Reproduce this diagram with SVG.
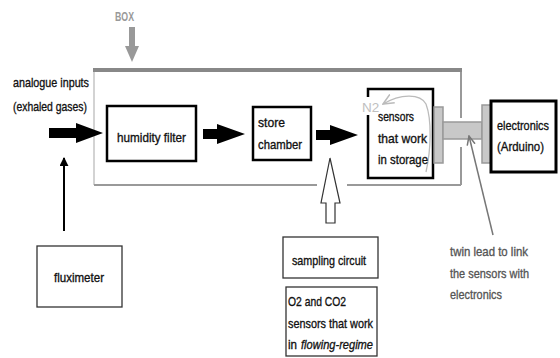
<svg xmlns="http://www.w3.org/2000/svg" width="560" height="358" viewBox="0 0 560 358">
<defs>
<style>
text{font-family:"Liberation Sans",Arial,sans-serif;font-size:13.5px;fill:#111;stroke:#111;stroke-width:0.35}
.box{fill:#fff;stroke:#000;stroke-width:2.5}
.thin{fill:#fff;stroke:#333;stroke-width:1.3}
.conn{fill:#c8c8c8;stroke:#999;stroke-width:1.5}
.big{fill:#000}
.gray{fill:#555;stroke:#555}
</style>
<marker id="ah" viewBox="0 0 10 10" refX="9" refY="5" markerWidth="9" markerHeight="9" markerUnits="userSpaceOnUse" orient="auto">
<path d="M0,0 L10,5 L0,10 Z" fill="#000"/>
</marker>
<marker id="ao" viewBox="0 0 10 10" refX="9" refY="5" markerWidth="10" markerHeight="10" markerUnits="userSpaceOnUse" orient="auto">
<path d="M0,1 L9,5 L0,9" fill="none" stroke="#777" stroke-width="1.5"/>
</marker>
<marker id="ag" viewBox="0 0 10 10" refX="9" refY="5" markerWidth="12" markerHeight="12" markerUnits="userSpaceOnUse" orient="auto">
<path d="M0,1 L9,5 L0,9" fill="none" stroke="#bbb" stroke-width="1.3"/>
</marker>
</defs>

<g id="enclosure">
<line x1="94" y1="70" x2="94" y2="185" stroke="#c4c4c4" stroke-width="1.5"/>
<line x1="94" y1="185" x2="317" y2="185" stroke="#999" stroke-width="2"/>
<line x1="347" y1="185" x2="461" y2="185" stroke="#999" stroke-width="2"/>
<line x1="461" y1="70" x2="461" y2="118" stroke="#999" stroke-width="2"/>
<line x1="461" y1="147" x2="461" y2="185" stroke="#999" stroke-width="2"/>
<line x1="93" y1="70" x2="462" y2="70" stroke="#888" stroke-width="4"/>
</g>

<g id="box-label">
<text x="115" y="21" font-size="12" font-weight="bold" style="fill:#999;stroke:none" textLength="19" lengthAdjust="spacingAndGlyphs">BOX</text>
<path d="M129,27 H135 V46 H139 L132,62 L125,46 H129 Z" fill="#999"/>
</g>

<g id="input-label">
<text x="13" y="87" textLength="76" lengthAdjust="spacingAndGlyphs">analogue inputs</text>
<text x="13" y="111" textLength="74" lengthAdjust="spacingAndGlyphs">(exhaled gases)</text>
</g>

<g id="humidity-filter">
<rect class="box" x="107" y="106" width="89" height="55"/>
<text x="151.5" y="142" text-anchor="middle" textLength="69" lengthAdjust="spacingAndGlyphs">humidity filter</text>
</g>

<g id="store-chamber">
<rect class="box" x="253" y="107" width="58" height="53"/>
<text x="258" y="127" textLength="27" lengthAdjust="spacingAndGlyphs">store</text>
<text x="258" y="149" textLength="44" lengthAdjust="spacingAndGlyphs">chamber</text>
</g>

<g id="sensors-storage">
<rect x="368" y="89" width="65" height="89" fill="#fff" stroke="none"/>
<path d="M368,97 V89 H433 V178 H368 V115" fill="none" stroke="#000" stroke-width="2.5"/>
<text x="362" y="112" font-size="11" style="fill:#c0c0c0;stroke:none">N2</text>
<path d="M426,172 C431,150 432,120 426,104 C420,93 400,94 383,104" fill="none" stroke="#bbb" stroke-width="1.3" marker-end="url(#ag)"/>
<text x="378" y="121" textLength="36" lengthAdjust="spacingAndGlyphs">sensors</text>
<text x="378" y="143" textLength="49" lengthAdjust="spacingAndGlyphs">that work</text>
<text x="378" y="164" textLength="50" lengthAdjust="spacingAndGlyphs">in storage</text>
</g>

<g id="twin-lead">
<rect class="conn" x="434" y="107" width="9" height="56"/>
<rect class="conn" x="443" y="122" width="39" height="17"/>
<rect class="conn" x="482" y="105" width="9" height="58"/>
</g>

<g id="electronics">
<rect x="491" y="101" width="65" height="71" fill="#fff" stroke="#000" stroke-width="3"/>
<text x="497" y="130" font-size="11" textLength="52" lengthAdjust="spacingAndGlyphs">electronics</text>
<text x="497" y="151" font-size="12.5" textLength="47" lengthAdjust="spacingAndGlyphs">(Arduino)</text>
</g>

<g id="fluximeter">
<rect class="thin" x="37" y="246" width="85" height="61"/>
<text x="79" y="282" text-anchor="middle" font-size="12" textLength="50" lengthAdjust="spacingAndGlyphs">fluximeter</text>
</g>

<g id="sampling-circuit">
<rect class="thin" x="283" y="237" width="95" height="41"/>
<text x="292" y="265" textLength="74" lengthAdjust="spacingAndGlyphs">sampling circuit</text>
</g>

<g id="flow-sensors">
<rect class="thin" x="286" y="287" width="91" height="69"/>
<text x="288" y="306" textLength="58" lengthAdjust="spacingAndGlyphs">O2 and CO2</text>
<text x="288" y="328" textLength="85" lengthAdjust="spacingAndGlyphs">sensors that work</text>
<text x="288" y="349" textLength="9" lengthAdjust="spacingAndGlyphs">in</text>
<text x="301" y="349" font-style="italic" textLength="72" lengthAdjust="spacingAndGlyphs">flowing-regime</text>
</g>

<g id="twin-lead-label">
<text class="gray" x="450" y="256" textLength="78" lengthAdjust="spacingAndGlyphs">twin lead to link</text>
<text class="gray" x="450" y="278" textLength="79" lengthAdjust="spacingAndGlyphs">the sensors with</text>
<text class="gray" x="450" y="299" textLength="52" lengthAdjust="spacingAndGlyphs">electronics</text>
</g>

<g id="connectors">
<path class="big" d="M49,128 H76 V123 L103,133 L76,143 V138 H49 Z"/>
<path class="big" d="M203,129 H217 V124 L245,134 L217,144 V139 H203 Z"/>
<path class="big" d="M316,130 H330 V125 L358,135 L330,145 V140 H316 Z"/>
<line x1="64" y1="231" x2="64" y2="158" stroke="#000" stroke-width="2" marker-end="url(#ah)"/>
<path d="M330,158 L340,203 H335 V223 H326 V203 H321 Z" fill="#fff" stroke="#333" stroke-width="1.2"/>
<line x1="493" y1="235" x2="469" y2="136" stroke="#777" stroke-width="1.5" marker-end="url(#ao)"/>
</g>
</svg>
